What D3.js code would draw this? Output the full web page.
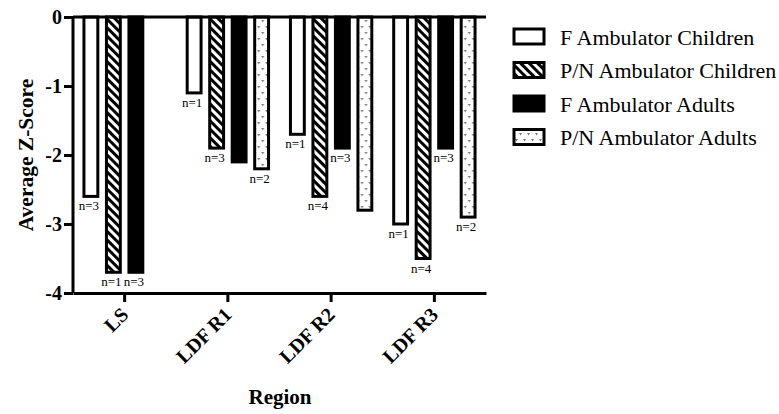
<!DOCTYPE html>
<html>
<head>
<meta charset="utf-8">
<script src="https://cdn.jsdelivr.net/npm/d3@7"></script>
<style>
  body { margin: 0; background: #fff; }
  svg { display: block; font-family: "Liberation Serif", "Times New Roman", serif; }
</style>
</head>
<body>
<div id="chart"></div>
<script>
// data
const regions = ["LS", "LDF R1", "LDF R2", "LDF R3"];
const seriesNames = [
  "F Ambulator Children",
  "P/N Ambulator Children",
  "F Ambulator Adults",
  "P/N Ambulator Adults",
];
// one value per region, null = no bar
const fChildren = [-2.6, -1.1, -1.7, -3.0];
const pnChildren = [-3.7, -1.9, -2.6, -3.5];
const fAdults = [-3.7, -2.1, -1.9, -1.9];
const pnAdults = [null, -2.2, -2.8, -2.9];
// sample size labels (empty = not shown)
const nChildrenF = ["n=3", "n=1", "n=1", "n=1"];
const nChildrenPN = ["n=1", "n=3", "n=4", "n=4"];
const nAdultsF = ["n=3", "", "n=3", "n=3"];
const nAdultsPN = ["", "n=2", "", "n=2"];
const yTicks = [0, -1, -2, -3, -4];

const serif = "Liberation Serif, Times New Roman, serif";
const width = 779,
  height = 414;
const margin = { top: 17, right: 293, bottom: 121, left: 73 };

const svg = d3
  .select("#chart")
  .append("svg")
  .attr("width", width)
  .attr("height", height)
  .attr("viewBox", [0, 0, width, height]);

// patterns
const defs = svg.append("defs");
const hatch = defs
  .append("pattern")
  .attr("id", "hatch")
  .attr("patternUnits", "userSpaceOnUse")
  .attr("width", 6)
  .attr("height", 6)
  .attr("patternTransform", "rotate(45)");
hatch.append("rect").attr("width", 6).attr("height", 6).attr("fill", "#fff");
hatch.append("rect").attr("width", 6).attr("height", 3).attr("fill", "#000");

const dots = defs
  .append("pattern")
  .attr("id", "dots")
  .attr("patternUnits", "userSpaceOnUse")
  .attr("width", 8)
  .attr("height", 12);
dots.append("rect").attr("width", 8).attr("height", 12).attr("fill", "#fff");
dots.append("path").attr("d", "M1,2 L4,2 L2.5,4.5 Z").attr("fill", "#777");
dots.append("path").attr("d", "M5,8 L8,8 L6.5,10.5 Z").attr("fill", "#777");

const fills = ["#fff", "url(#hatch)", "#000", "url(#dots)"];
const color = d3.scaleOrdinal().domain(seriesNames).range(fills);

const allValues = [fChildren, pnChildren, fAdults, pnAdults];
const allLabels = [nChildrenF, nChildrenPN, nAdultsF, nAdultsPN];

const data = regions.map((r, i) => ({
  region: r,
  bars: seriesNames.map((s, j) => ({
    key: s,
    value: allValues[j][i],
    label: allLabels[j][i],
  })),
}));

const xScale = d3
  .scaleBand()
  .domain(regions)
  .range([margin.left, width - margin.right]);

const xSub = d3
  .scaleBand()
  .domain(seriesNames)
  .range([0, xScale.bandwidth()])
  .paddingInner(0.25)
  .paddingOuter(0.42);

const yScale = d3
  .scaleLinear()
  .domain([-4, 0])
  .range([height - margin.bottom, margin.top]);

// bars
const groups = svg
  .append("g")
  .selectAll("g")
  .data(data)
  .join("g")
  .attr("transform", (d) => `translate(${xScale(d.region)},0)`);

const bw = xSub.bandwidth() - 3;

groups
  .selectAll("rect")
  .data((d) => d.bars.filter((b) => b.value !== null))
  .join("rect")
  .attr("x", (d) => xSub(d.key) + 1.5)
  .attr("y", yScale(0))
  .attr("width", bw)
  .attr("height", (d) => yScale(d.value) - yScale(0))
  .attr("fill", (d) => color(d.key))
  .attr("stroke", "#000")
  .attr("stroke-width", 3);

groups
  .selectAll("text")
  .data((d) => d.bars.filter((b) => b.value !== null && b.label))
  .join("text")
  .attr("x", (d) => xSub(d.key) + xSub.bandwidth() / 2 - 2)
  .attr("y", (d) => yScale(d.value) + 14)
  .attr("text-anchor", "middle")
  .attr("font-family", serif)
  .attr("font-size", 13)
  .text((d) => d.label);

// y axis
const yAxis = d3
  .axisLeft(yScale)
  .tickValues(yTicks)
  .tickSize(9)
  .tickPadding(2)
  .tickFormat(d3.format("d"));

const yG = svg
  .append("g")
  .attr("transform", `translate(${margin.left},0)`)
  .call(yAxis);
yG.select(".domain").attr("stroke-width", 3).attr("d", `M0,${yScale(0)}V${yScale(-4)}`);
yG.selectAll(".tick line").attr("stroke-width", 3);
yG.selectAll(".tick text")
  .attr("font-size", 20)
  .attr("font-weight", "bold")
  .attr("font-family", serif)
  .text((d) => (d === 0 ? "0" : "-" + Math.abs(d)));

// top zero line
svg
  .append("line")
  .attr("x1", margin.left)
  .attr("x2", width - margin.right)
  .attr("y1", yScale(0))
  .attr("y2", yScale(0))
  .attr("stroke", "#000")
  .attr("stroke-width", 3);

// x axis
const xAxis = d3.axisBottom(xScale).tickSize(9).tickSizeOuter(0);
const xG = svg
  .append("g")
  .attr("transform", `translate(0,${height - margin.bottom})`)
  .call(xAxis);
xG.select(".domain").attr("stroke-width", 3);
xG.selectAll(".tick line").attr("stroke-width", 3);
xG.selectAll(".tick text")
  .attr("font-size", 20)
  .attr("font-weight", "bold")
  .attr("font-family", serif)
  .style("text-anchor", "end")
  .attr("y", 0)
  .attr("dy", "0.35em")
  .attr("transform", "translate(0,18) rotate(-45)");

// axis titles
svg
  .append("text")
  .attr("x", 280)
  .attr("y", 404)
  .attr("text-anchor", "middle")
  .attr("font-family", serif)
  .attr("font-size", 21)
  .attr("font-weight", "bold")
  .text("Region");

svg
  .append("text")
  .attr("transform", `translate(33,${(yScale(0) + yScale(-4)) / 2}) rotate(-90)`)
  .attr("text-anchor", "middle")
  .attr("font-family", serif)
  .attr("font-size", 21.5)
  .attr("font-weight", "bold")
  .text("Average Z-Score");

// legend
const legend = svg.append("g").attr("transform", "translate(514,29)");
const row = 33.5;

legend
  .selectAll("rect")
  .data(seriesNames)
  .join("rect")
  .attr("x", 0)
  .attr("y", (d, i) => i * row)
  .attr("width", 30)
  .attr("height", 15)
  .attr("fill", (d) => color(d))
  .attr("stroke", "#000")
  .attr("stroke-width", 3);

legend
  .selectAll("text")
  .data(seriesNames)
  .join("text")
  .attr("x", 46)
  .attr("y", (d, i) => i * row + 8)
  .attr("dy", "0.35em")
  .attr("font-family", serif)
  .attr("font-size", 22)
  .text((d) => d);
</script>
</body>
</html>
